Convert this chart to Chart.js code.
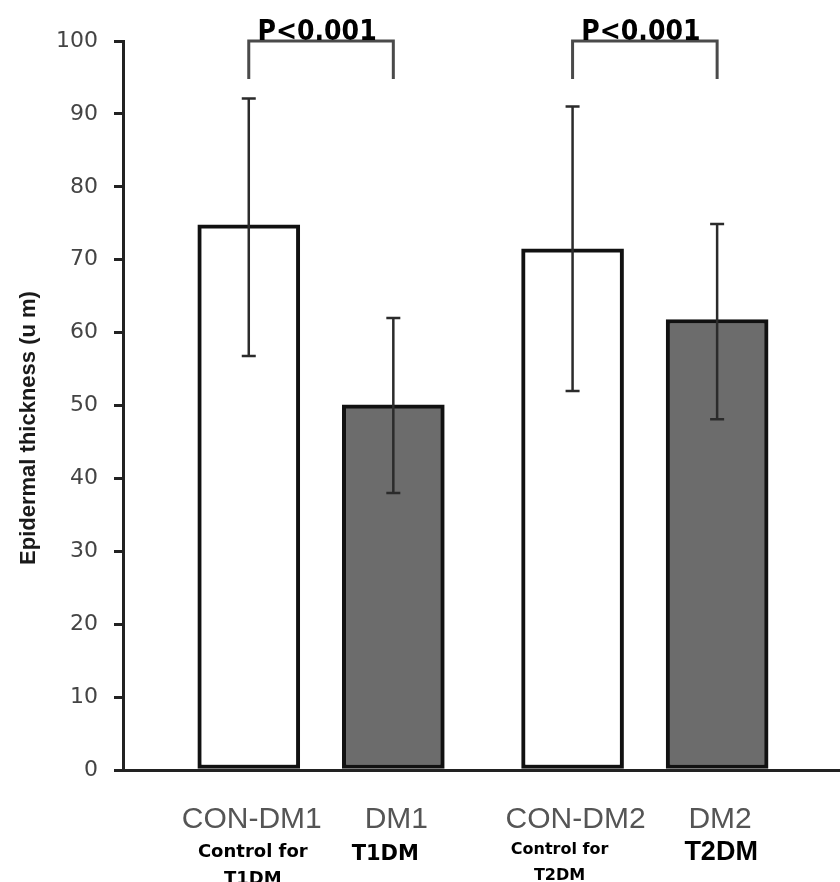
<!DOCTYPE html>
<html>
<head>
<meta charset="utf-8">
<script src="https://cdn.jsdelivr.net/npm/chart.js@4/dist/chart.umd.min.js"></script>
<style>
  body { margin: 0; background: #fff; }
  #wrap { width: 840px; height: 882px; }
</style>
</head>
<body>
<div id="wrap"><canvas id="thicknessChart"></canvas></div>
<script>
// group names under the bars, and the bold captions under them
var categories = ['CON-DM1', 'DM1', 'CON-DM2', 'DM2'];
var subLabels = [['Control for', 'T1DM'], ['T1DM'], ['Control for', 'T2DM'], ['T2DM']];
// where each group sits on the x axis (the two pairs are set apart)
var catPositions = [1, 2, 3.24, 4.24];

// mean epidermal thickness (um) and error bar ends
var means   = [74.8, 50.1, 71.5, 61.8];
var errLow  = [56.8, 38.0, 52.0, 48.1];
var errHigh = [92.1, 62.0, 91.0, 74.9];

// significance brackets: which bars they join and the text on top
var comparisons = [[0, 1], [2, 3]];
var pLabels = ['P<0.001', 'P<0.001'];

var yTicks = [0, 10, 20, 30, 40, 50, 60, 70, 80, 90, 100];

var barData = [];
for (let i = 0; i < categories.length; i++) {
    barData.push({ x: catPositions[i], y: means[i] });
}

// error bars with small caps
var errorBarPlugin = {
    id: 'errorBars',
    afterDatasetsDraw: function(chart) {
        var ctx = chart.ctx;
        var xs = chart.scales.x, ys = chart.scales.y;
        ctx.save();
        ctx.strokeStyle = '#2b2b2b';
        ctx.lineWidth = 2.5;
        for (let i = 0; i < categories.length; i++) {
            var x = xs.getPixelForValue(catPositions[i]);
            var top = ys.getPixelForValue(errHigh[i]);
            var bot = ys.getPixelForValue(errLow[i]);
            ctx.beginPath();
            ctx.moveTo(x, top); ctx.lineTo(x, bot);
            ctx.moveTo(x - 7, top); ctx.lineTo(x + 7, top);
            ctx.moveTo(x - 7, bot); ctx.lineTo(x + 7, bot);
            ctx.stroke();
        }
        ctx.restore();
    }
};

// brackets with p values, x labels and the y title
var annotationPlugin = {
    id: 'annotations',
    afterDraw: function(chart) {
        var ctx = chart.ctx;
        var xs = chart.scales.x, ys = chart.scales.y;
        ctx.save();

        // brackets
        ctx.strokeStyle = '#4a4a4a';
        ctx.lineWidth = 3;
        var yTop = ys.getPixelForValue(100);
        var yLeg = ys.getPixelForValue(94.8);
        for (let k = 0; k < comparisons.length; k++) {
            var xa = xs.getPixelForValue(catPositions[comparisons[k][0]]);
            var xb = xs.getPixelForValue(catPositions[comparisons[k][1]]);
            ctx.beginPath();
            ctx.moveTo(xa, yLeg); ctx.lineTo(xa, yTop); ctx.lineTo(xb, yTop); ctx.lineTo(xb, yLeg);
            ctx.stroke();
            ctx.fillStyle = '#000';
            ctx.font = 'bold 28px "DejaVu Sans Condensed", "DejaVu Sans", sans-serif';
            ctx.textAlign = 'center';
            ctx.textBaseline = 'alphabetic';
            ctx.fillText(pLabels[k], (xa + xb) / 2 - 4, yTop - 1);
        }

        // category names
        ctx.textAlign = 'center';
        ctx.textBaseline = 'alphabetic';
        for (let i = 0; i < categories.length; i++) {
            var x = xs.getPixelForValue(catPositions[i]);
            ctx.fillStyle = '#555';
            ctx.font = '30px "Liberation Sans", Arial, sans-serif';
            ctx.fillText(categories[i], x + 3, 828);
        }

        // bold captions, the scan has them in mixed sizes
        ctx.fillStyle = '#000';
        var x0 = xs.getPixelForValue(catPositions[0]);
        var x1 = xs.getPixelForValue(catPositions[1]);
        var x2 = xs.getPixelForValue(catPositions[2]);
        var x3 = xs.getPixelForValue(catPositions[3]);
        ctx.font = 'bold 18px "DejaVu Sans", sans-serif';
        ctx.fillText(subLabels[0][0], x0 + 4, 857);
        ctx.fillText(subLabels[0][1], x0 + 4, 884);
        ctx.font = 'bold 21px "DejaVu Sans", sans-serif';
        ctx.fillText(subLabels[1][0], x1 - 8, 860);
        ctx.font = 'bold 16px "DejaVu Sans", sans-serif';
        ctx.fillText(subLabels[2][0], x2 - 13, 854);
        ctx.fillText(subLabels[2][1], x2 - 13, 880);
        ctx.font = 'bold 27px "Liberation Sans Narrow", "Liberation Sans", sans-serif';
        ctx.fillText(subLabels[3][0], x3 + 4, 860);

        // y axis title
        ctx.translate(29, 428);
        ctx.rotate(-Math.PI / 2);
        ctx.fillStyle = '#1a1a1a';
        ctx.font = 'bold 22px "Liberation Sans", Arial, sans-serif';
        ctx.textBaseline = 'middle';
        ctx.fillText('Epidermal thickness (u m)', 0, 0);
        ctx.restore();
    }
};

var ctx = document.getElementById('thicknessChart').getContext('2d');
var thicknessChart = new Chart(ctx, {
    type: 'bar',
    data: {
        datasets: [{
            label: 'Epidermal thickness',
            data: barData,
            backgroundColor: ['#ffffff', '#6c6c6c', '#ffffff', '#6c6c6c'],
            borderColor: '#111',
            borderWidth: 4,
            borderSkipped: false,
            barThickness: 102
        }]
    },
    options: {
        responsive: true,
        maintainAspectRatio: false,
        animation: false,
        layout: { padding: { top: 41, right: 0, left: 0, bottom: 0 } },
        plugins: {
            legend: { display: false },
            tooltip: { enabled: false }
        },
        scales: {
            x: {
                type: 'linear',
                offset: false,
                min: 0.13,
                max: 5.09,
                ticks: { display: false },
                grid: { display: true, offset: false, drawOnChartArea: false, drawTicks: false },
                border: { display: true, color: '#222', width: 3 },
                afterFit: function(scale) { scale.height = 112; }
            },
            y: {
                min: 0,
                max: 100,
                afterBuildTicks: function(scale) {
                    scale.ticks = yTicks.map(function(v) { return { value: v }; });
                },
                ticks: {
                    color: '#444',
                    padding: 16,
                    font: { family: '"DejaVu Sans", sans-serif', size: 22 }
                },
                grid: { drawOnChartArea: false, drawTicks: true, tickLength: 9, color: '#222', lineWidth: 3 },
                border: { display: true, color: '#222', width: 3 },
                afterFit: function(scale) { scale.width = 123; }
            }
        }
    },
    plugins: [errorBarPlugin, annotationPlugin]
});
</script>
</body>
</html>
